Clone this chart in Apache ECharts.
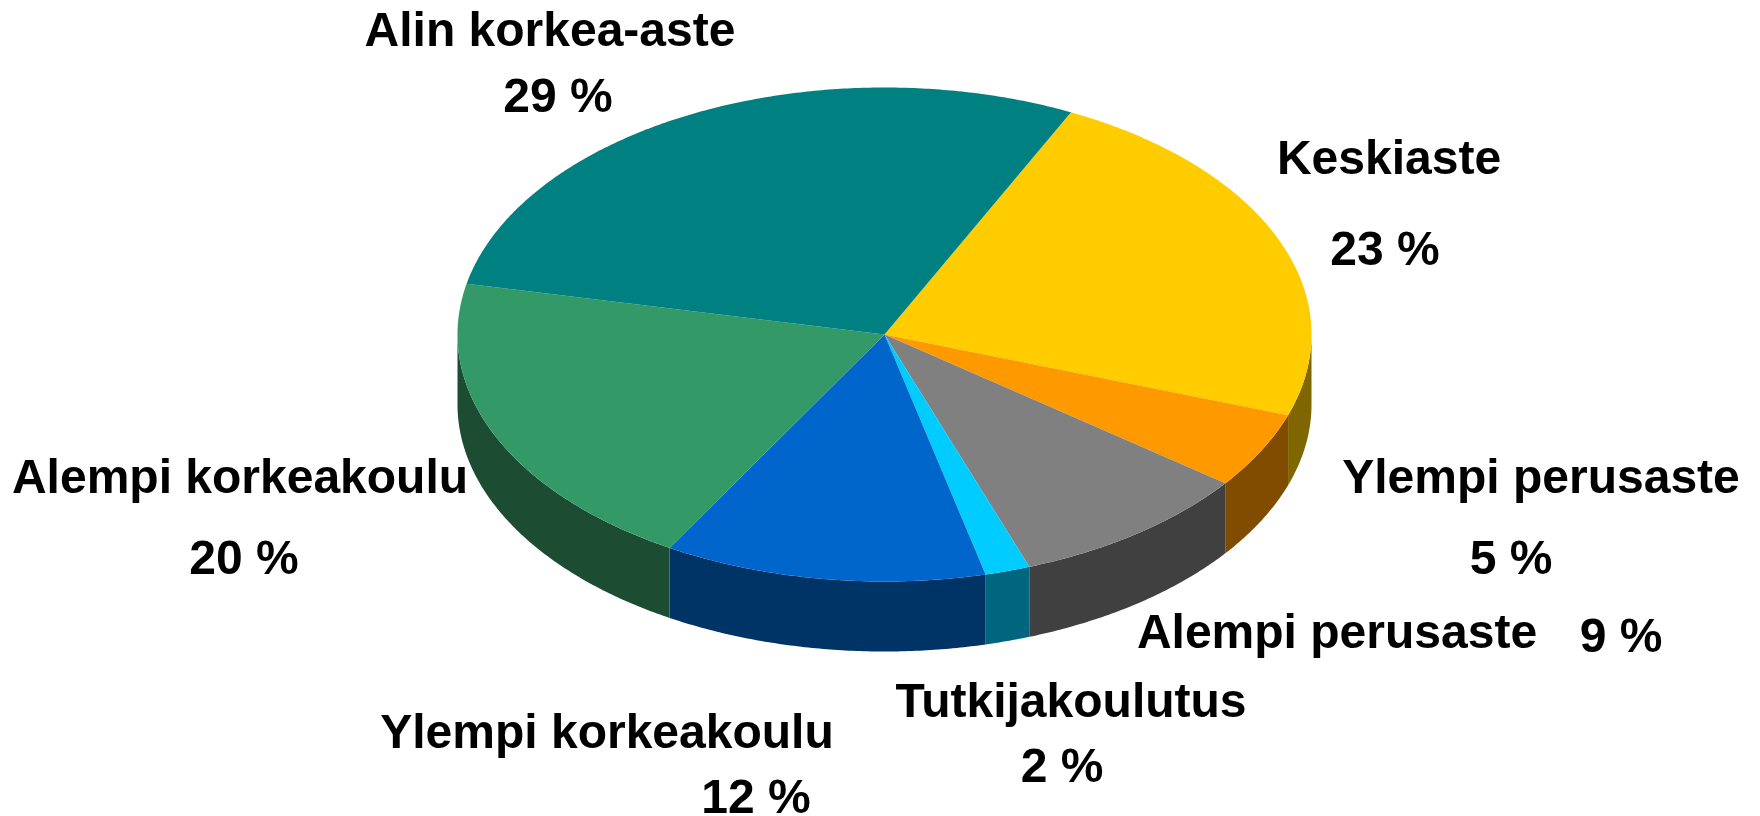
<!DOCTYPE html>
<html><head><meta charset="utf-8">
<style>html,body{margin:0;padding:0;background:#fff}#c{width:1760px;height:816px}</style>
<script src="https://cdn.jsdelivr.net/npm/echarts@6/dist/echarts.min.js"></script>
</head><body><div id="c"></div>
<script>
const categories = ['Keskiaste','Ylempi perusaste','Alempi perusaste','Tutkijakoulutus','Ylempi korkeakoulu','Alempi korkeakoulu','Alin korkea-aste'];
const shares = [23.1,5.0,9.2,1.7,12.2,19.9,28.9];
const topColors = ['#FFCC00','#FF9900','#808080','#00CCFF','#0066CC','#339966','#008080'];
const sideColors = ['#806600','#804D00','#404040','#006680','#003366','#1C4D33','#004040'];
// label anchor points, pixels: [nameX, nameY, valueX, valueY]
const labelAnchors = [
  [1389,161,1385,252],[1541,480,1511,561],[1337,635,1621,639],[1071,704,1062,769],
  [607,735,756,800],[240,480,244,561],[550,33,558,99]
];
const CX=884.5, CY=334.5, RX=427, RY=247, DEPTH=70, START=25.9;
const total = shares.reduce((a,b)=>a+b,0);
const span = i => {
  let before=0; for(let k=0;k<i;k++) before+=shares[k];
  return [START+before/total*360, START+(before+shares[i])/total*360];
};
const pt = (deg,dy=0)=>{const r=deg*Math.PI/180;return [CX+RX*Math.sin(r),CY-RY*Math.cos(r)+dy];};
const arc = (a,b,dy=0)=>{const n=Math.max(2,Math.ceil((b-a)*2)),o=[];for(let j=0;j<=n;j++)o.push(pt(a+(b-a)*j/n,dy));return o;};

const font='bold 48px "Liberation Sans", Arial, sans-serif';
const source = categories.map((n,i)=>({name:n,value:shares[i]}));
const option = {
  animation:false, backgroundColor:'#fff',
  series:[
    {type:'custom',coordinateSystem:'none',silent:true,z:1,data:source,
     renderItem(p){
       const i=p.dataIndex; let [a,b]=span(i);
       a=Math.max(a,90); b=Math.min(b,270);
       if(b<=a) return {type:'group',children:[]};
       const pts=arc(a,b,0).concat(arc(a,b,DEPTH).reverse());
       return {type:'polygon',shape:{points:pts},style:{fill:sideColors[i]}};
     }},
    {type:'custom',coordinateSystem:'none',silent:true,z:2,data:source,
     renderItem(p){
       const i=p.dataIndex; const [a,b]=span(i);
       return {type:'polygon',shape:{points:[[CX,CY]].concat(arc(a,b))},style:{fill:topColors[i]}};
     }},
    {type:'custom',coordinateSystem:'none',silent:true,z:3,data:source,
     renderItem(p){
       const i=p.dataIndex, la=labelAnchors[i];
       const t=(text,x,y)=>({type:'text',style:{text,x,y,font,fill:'#000',align:'center',verticalAlign:'middle'}});
       return {type:'group',children:[t(categories[i],la[0],la[1]),t(Math.round(shares[i])+' %',la[2],la[3])]};
     }}
  ]
};
const chart=echarts.init(document.getElementById('c'),null,{renderer:'canvas'});
chart.setOption(option);
</script></body></html>
